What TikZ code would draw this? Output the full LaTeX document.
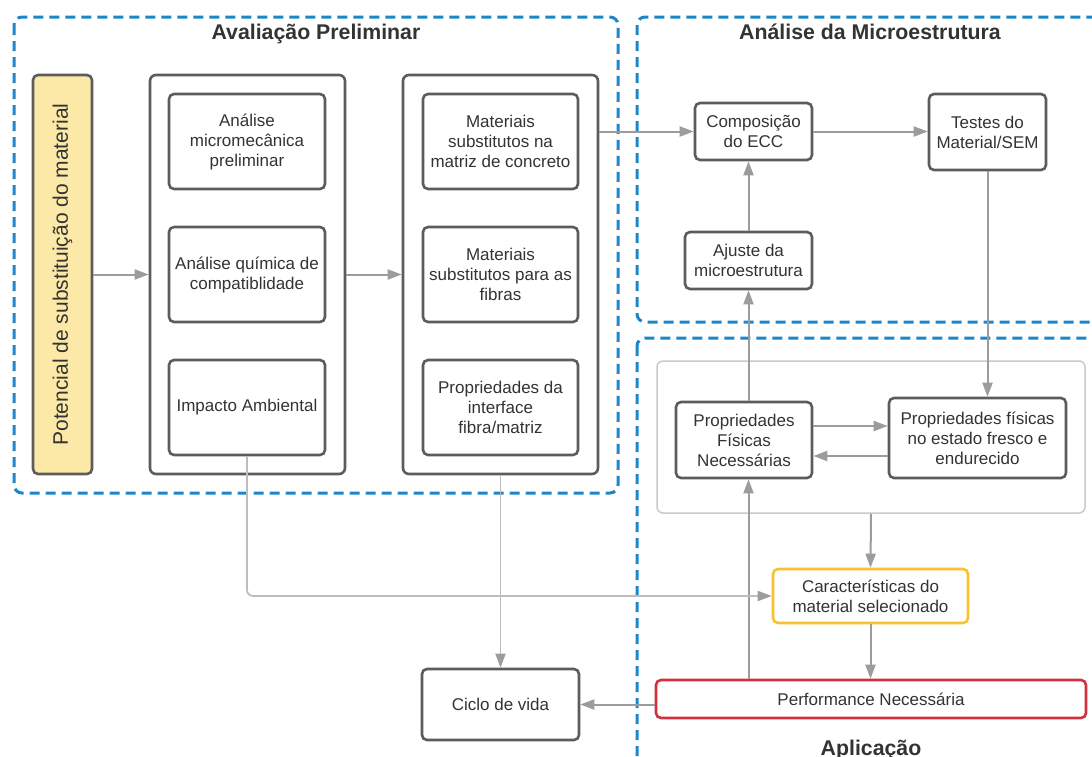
\documentclass[tikz,border=0pt]{standalone}
\usepackage{fontspec}
\setmainfont{Liberation Sans}
\usetikzlibrary{arrows.meta,calc}

\definecolor{frameblue}{HTML}{1C86C9}
\definecolor{boxgray}{HTML}{5C5C5C}
\definecolor{txtgray}{HTML}{333333}
\definecolor{linkgray}{HTML}{9C9C9C}
\definecolor{linklight}{HTML}{BDBDBD}
\definecolor{panelgray}{HTML}{CACACA}
\definecolor{paleyellow}{HTML}{FDE9A7}
\definecolor{goldline}{HTML}{FBC02D}
\definecolor{redline}{HTML}{D3303F}

\tikzset{
  frame/.style={draw=frameblue, line width=3pt, dash pattern=on 10pt off 6pt, rounded corners=8pt},
  title/.style={font=\fontsize{21.3}{25}\selectfont\bfseries, text=txtgray, anchor=base},
  stepbox/.style={draw=boxgray, line width=2.6pt, rounded corners=5pt, fill=white,
    align=center, inner sep=0pt, text=txtgray, font=\fontsize{17}{20}\selectfont},
  groupbox/.style={draw=boxgray, line width=2.6pt, rounded corners=6pt, inner sep=0pt},
  panel/.style={draw=panelgray, line width=1.5pt, rounded corners=6pt, inner sep=0pt},
  link/.style={draw=linkgray, line width=2pt, -{Triangle[length=14pt,width=10pt]}},
  softlink/.style={draw=linklight, line width=1.8pt, rounded corners=6pt,
    -{Triangle[length=14pt,width=10pt,color=linkgray]}},
}

\begin{document}
\begin{tikzpicture}[x=1pt,y=-1pt]
\useasboundingbox (0,0) rectangle (1092,756);
\clip (0,0) rectangle (1092,756);

% dashed regions
\draw[frame] (14,17) rectangle (618,493);
\draw[frame] (637,17) rectangle (1115,322);
\draw[frame] (637,338) rectangle (1115,790);

\node[title] (tPre) at (316,39) {Avaliação Preliminar};
\node[title] (tMic) at (870,39) {Análise da Microestrutura};
\node[title] (tApl) at (871,755) {Aplicação};

% preliminary evaluation
\node[stepbox, fill=paleyellow, minimum width=59pt, minimum height=399pt] (pot) at (62.5,274.5) {};
\node[rotate=90, text=txtgray, font=\fontsize{21}{24}\selectfont] (potTxt) at (pot.center) {Potencial de substituição do material};

\node[groupbox, minimum width=195pt, minimum height=399pt] (gA) at (247.5,274.5) {};
\node[stepbox, minimum width=156pt, minimum height=95pt] (a1) at (247,141.5) {Análise\\micromecânica\\preliminar};
\node[stepbox, minimum width=156pt, minimum height=95pt] (a2) at (247,274.5) {Análise química de\\compatiblidade};
\node[stepbox, minimum width=156pt, minimum height=95pt] (a3) at (247,407.5) {Impacto Ambiental};

\node[groupbox, minimum width=195pt, minimum height=399pt] (gB) at (500.5,274.5) {};
\node[stepbox, minimum width=155pt, minimum height=95pt] (b1) at (500.5,141.5) {Materiais\\substitutos na\\matriz de concreto};
\node[stepbox, minimum width=155pt, minimum height=95pt] (b2) at (500.5,274.5) {Materiais\\substitutos para as\\fibras};
\node[stepbox, minimum width=155pt, minimum height=95pt] (b3) at (500.5,407.5) {Propriedades da\\interface\\fibra/matriz};

% microstructure analysis
\node[stepbox, minimum width=117pt, minimum height=57pt] (comp) at (753.5,131.5) {Composição\\do ECC};
\node[stepbox, minimum width=117pt, minimum height=76pt] (test) at (987.5,132) {Testes do\\Material/SEM};
\node[stepbox, minimum width=127pt, minimum height=57pt] (ajus) at (748.5,260.5) {Ajuste da\\microestrutura};

% application
\node[panel, minimum width=428pt, minimum height=152pt] (pan) at (871,437) {};
\node[stepbox, minimum width=136pt, minimum height=76pt] (pfn) at (744,440) {Propriedades\\Físicas\\Necessárias};
\node[stepbox, minimum width=177pt, minimum height=80pt] (pfe) at (977.5,438) {Propriedades físicas\\no estado fresco e\\endurecido};
\node[stepbox, draw=goldline, minimum width=195pt, minimum height=54pt] (car) at (870.5,596) {Características do\\material selecionado};
\node[stepbox, draw=redline, minimum width=430pt, minimum height=38pt] (perf) at (871,699) {Performance Necessária};
\node[stepbox, minimum width=157pt, minimum height=71pt] (cic) at (500.5,704.5) {Ciclo de vida};

% connectors
\draw[link] (pot) -- (gA);
\draw[link] (gA) -- (gB);
\draw[link] (gB.east |- comp.west) -- (comp.west);
\draw[link] (comp.east) -- (comp.east -| test.west);
\draw[link] (ajus.north) -- (ajus.north |- comp.south);
\draw[link] (test.south) -- (test.south |- pfe.north);
\draw[link] (ajus.south |- pfn.north) -- (ajus.south);
\draw[link] ($(pfn.east)+(0,-14)$) -- ($(pfn.east -| pfe.west)+(0,-14)$);
\draw[link] ($(pfn.east -| pfe.west)+(0,16)$) -- ($(pfn.east)+(0,16)$);
\draw[link] (pan.south) -- (car.north);
\draw[link] (car.south) -- (car.south |- perf.north);
\draw[link] (ajus.south |- perf.north) -- (ajus.south |- pfn.south);
\draw[link] (perf.west |- cic.east) -- (cic.east);
\draw[softlink] (gB.south) -- (cic.north);
\draw[softlink] (a3.south) |- (car.west);
\end{tikzpicture}
\end{document}
